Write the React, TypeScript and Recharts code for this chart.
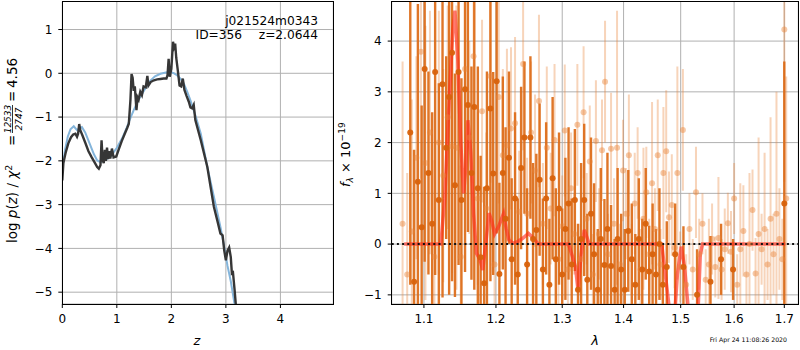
import React from "react";
import {
  LineChart,
  ComposedChart,
  Line,
  Scatter,
  ErrorBar,
  XAxis,
  YAxis,
  CartesianGrid,
  ReferenceLine,
} from "recharts";

const FONT = "DejaVu Sans, Verdana, sans-serif";

// left panel: redshift probability
const Z_TICKS = [0, 1, 2, 3, 4];
const LOGP_TICKS = [-5, -4, -3, -2, -1, 0, 1];

// [z, log p(z)]
const PZ_CURVE = [
  [0.0, -2.45], [0.02, -2.05], [0.06, -1.82], [0.11, -1.6], [0.16, -1.46], [0.2, -1.4],
  [0.24, -1.38], [0.27, -1.45], [0.29, -1.38], [0.31, -1.16], [0.33, -1.3], [0.37, -1.42],
  [0.42, -1.58], [0.48, -1.78], [0.54, -1.92], [0.6, -2.05], [0.64, -2.14], [0.67, -2.18],
  [0.7, -2.1], [0.72, -1.53], [0.74, -1.98], [0.76, -2.05], [0.78, -1.75], [0.8, -2.0],
  [0.82, -1.7], [0.84, -1.96], [0.86, -1.78], [0.88, -1.95], [0.91, -1.72], [0.94, -1.92],
  [0.99, -1.9], [1.04, -1.72], [1.09, -1.55], [1.14, -1.4], [1.19, -1.25], [1.22, -1.15],
  [1.25, -0.6], [1.27, -0.02], [1.29, -0.1], [1.31, -0.4], [1.33, -0.3], [1.36, -0.84],
  [1.38, -0.55], [1.4, -0.6], [1.43, -0.42], [1.46, -0.5], [1.49, -0.3], [1.53, -0.32],
  [1.56, -0.06], [1.58, -0.28], [1.62, -0.2], [1.68, -0.16], [1.74, -0.14], [1.8, -0.13],
  [1.86, -0.12], [1.91, -0.12], [1.93, -0.04], [1.95, 0.33], [1.97, -0.08], [2.0, 0.1],
  [2.03, 0.72], [2.05, 0.6], [2.07, 0.68], [2.09, 0.35], [2.12, 0.05], [2.15, -0.28],
  [2.18, -0.3], [2.21, -0.12], [2.24, -0.38], [2.28, -0.52], [2.32, -0.65], [2.35, -0.78],
  [2.38, -0.8], [2.41, -0.72], [2.44, -1.07], [2.54, -1.53], [2.66, -2.14], [2.72, -2.6],
  [2.78, -3.05], [2.85, -3.4], [2.9, -3.66], [2.94, -3.7], [2.97, -4.05], [3.0, -4.27],
  [3.03, -4.05], [3.06, -3.98], [3.09, -4.2], [3.11, -4.57], [3.13, -4.55], [3.16, -4.95],
  [3.19, -5.4],
];

// [z, log prior]
const PRIOR_CURVE = [
  [0.0, -2.18], [0.05, -1.75], [0.1, -1.45], [0.15, -1.28], [0.21, -1.21], [0.27, -1.3],
  [0.31, -1.26], [0.36, -1.23], [0.42, -1.35], [0.5, -1.6], [0.58, -1.85], [0.64, -1.99],
  [0.7, -2.03], [0.78, -1.98], [0.88, -1.91], [1.0, -1.7], [1.1, -1.48], [1.19, -1.22],
  [1.25, -1.02], [1.31, -0.84], [1.4, -0.6], [1.5, -0.39], [1.62, -0.16], [1.7, -0.07],
  [1.8, -0.01], [1.9, 0.02], [1.99, 0.03], [2.05, 0.0], [2.11, -0.05], [2.17, -0.13],
  [2.23, -0.24], [2.29, -0.42], [2.35, -0.62], [2.45, -1.0], [2.54, -1.38], [2.6, -1.76],
  [2.66, -2.14], [2.72, -2.48], [2.78, -2.82], [2.84, -3.16], [2.9, -3.51], [2.96, -3.9],
  [3.03, -4.4], [3.09, -4.75], [3.16, -5.28], [3.2, -5.5],
];

// right panel: spectrum
const WAVE_TICKS = [1.1, 1.2, 1.3, 1.4, 1.5, 1.6, 1.7];
const FLUX_TICKS = [-1, 0, 1, 2, 3, 4];

// [wavelength, flux, error] - blue grism
const BLUE_GRISM = [
  [1.082, 2.2, 3.0], [1.087, -0.74, 2.6], [1.092, 1.23, 3.5], [1.097, 0.33, 2.4], [1.101, 3.45, 3.8],
  [1.106, 1.4, 2.0], [1.111, 0.4, 2.2], [1.115, 3.39, 4.0], [1.12, 0.87, 2.3], [1.125, 3.15, 4.2],
  [1.13, 1.9, 1.8], [1.134, 2.9, 3.9], [1.138, 3.77, 4.5], [1.142, 1.16, 2.2], [1.147, 3.39, 3.8],
  [1.151, 0.87, 2.4], [1.156, 3.05, 3.6], [1.16, 2.74, 2.5], [1.165, 1.4, 2.1], [1.169, 2.7, 3.6],
  [1.174, 1.1, 2.4], [1.178, -0.26, 2.0], [1.183, -0.77, 1.9], [1.187, 1.1, 2.3], [1.192, 2.67, 3.4],
  [1.196, 1.39, 2.0], [1.201, 3.21, 3.0], [1.205, -0.59, 1.8], [1.21, 1.4, 1.9], [1.214, 0.5, 1.8],
  [1.219, 1.7, 1.7], [1.223, -0.3, 1.6], [1.228, 0.9, 1.7], [1.232, -0.6, 1.5], [1.237, 1.5, 1.6],
  [1.242, 2.1, 1.5], [1.246, -0.4, 1.5], [1.251, 2.1, 1.6], [1.255, 0.1, 1.5], [1.26, 0.28, 1.5],
  [1.265, 1.27, 1.5], [1.27, -0.5, 1.4], [1.275, 0.9, 1.5], [1.28, -0.8, 1.3], [1.285, 1.3, 1.6],
  [1.29, -0.3, 1.4], [1.295, 0.7, 1.5], [1.3, -0.6, 1.3], [1.305, 0.3, 1.4], [1.31, 0.8, 1.5],
  [1.315, -0.4, 1.3], [1.32, 0.87, 1.4], [1.325, -0.9, 1.3], [1.33, 0.1, 1.5], [1.335, 0.87, 1.5],
  [1.34, -0.7, 1.3], [1.346, 0.6, 1.5], [1.351, -0.2, 1.4], [1.357, -0.9, 1.2], [1.362, 0.1, 1.4],
  [1.368, -0.41, 1.3], [1.373, 0.3, 1.5], [1.379, -0.43, 1.2], [1.385, -0.9, 1.0], [1.39, 0.1, 1.4],
  [1.396, -0.5, 1.1], [1.402, -0.9, 1.2], [1.408, 0.26, 1.2], [1.414, -0.3, 1.1], [1.42, -0.8, 1.0],
  [1.426, 0.1, 1.2], [1.432, -0.5, 1.0], [1.438, 0.4, 1.1], [1.444, -0.54, 0.9], [1.45, -0.2, 1.0],
  [1.456, -0.6, 0.9], [1.462, 0.0, 1.1], [1.468, -0.8, 0.8], [1.475, -0.45, 0.9], [1.49, -0.2, 1.0],
  [1.505, -0.45, 0.8], [1.53, -1.0, 0.9], [1.555, -0.74, 0.9], [1.575, -0.3, 0.7], [1.598, -0.5, 0.6],
  [1.7, 0.8, 2.8],
];

// [wavelength, flux, error] - red grism
const RED_GRISM = [
  [1.072, 0.4, 3.2], [1.078, -0.6, 2.0], [1.084, 0.25, 2.6], [1.09, 1.7, 2.0], [1.096, 3.79, 2.5],
  [1.102, 1.6, 2.7], [1.108, 2.2, 2.4], [1.114, -0.25, 1.9], [1.12, 2.0, 2.6], [1.126, 1.35, 2.1],
  [1.132, 2.5, 2.2], [1.138, 1.93, 2.5], [1.144, 1.9, 2.8], [1.15, -0.25, 1.8], [1.156, 3.45, 2.4],
  [1.162, 2.1, 1.9], [1.168, 3.7, 2.5], [1.174, 0.9, 1.7], [1.18, 2.62, 1.8], [1.186, 0.7, 1.5],
  [1.192, 3.31, 2.1], [1.198, -0.4, 1.4], [1.204, 2.9, 2.1], [1.21, 1.75, 1.7], [1.216, 1.95, 1.9],
  [1.222, 2.28, 1.6], [1.228, 2.38, 1.7], [1.234, 0.64, 1.2], [1.24, 3.55, 1.7], [1.246, 0.6, 1.1],
  [1.252, 2.2, 1.4], [1.258, 1.45, 1.5], [1.264, 2.82, 1.7], [1.27, 0.4, 1.2], [1.276, 1.9, 1.6],
  [1.282, 0.7, 1.1], [1.288, 2.05, 1.5], [1.294, -0.3, 1.0], [1.3, 0.35, 1.0], [1.304, 2.24, 1.3],
  [1.309, -0.5, 0.8], [1.314, 1.1, 1.1], [1.319, 0.2, 0.8], [1.324, 2.35, 1.2], [1.329, -0.3, 0.7],
  [1.334, 2.6, 1.3], [1.339, 0.5, 0.9], [1.344, 1.63, 1.1], [1.349, -0.6, 0.8], [1.354, 2.03, 1.2],
  [1.359, 0.2, 0.9], [1.364, 1.85, 1.0], [1.369, 3.2, 1.2], [1.374, -0.2, 0.8], [1.379, 1.88, 1.1],
  [1.384, 0.4, 0.9], [1.389, 1.9, 2.7], [1.394, -0.4, 0.8], [1.399, 1.45, 1.0], [1.404, 0.6, 0.9],
  [1.409, 1.75, 1.2], [1.414, -0.3, 0.7], [1.419, 0.8, 1.0], [1.424, 1.4, 0.9], [1.429, -0.5, 0.8],
  [1.434, 0.5, 1.4], [1.439, 1.02, 0.9], [1.444, -0.2, 0.7], [1.449, 1.2, 1.6], [1.454, 0.3, 0.8],
  [1.459, 1.75, 1.1], [1.464, -0.4, 0.7], [1.469, 1.4, 1.3], [1.474, 1.83, 1.2], [1.479, 0.53, 0.9],
  [1.484, 0.77, 1.0], [1.489, -0.07, 0.8], [1.494, 1.4, 2.1], [1.499, -0.45, 0.7], [1.504, 2.25, 1.2],
  [1.51, -0.8, 0.6], [1.516, 0.3, 0.7], [1.522, -0.5, 0.6], [1.528, 1.02, 0.9], [1.534, -0.2, 0.7],
  [1.54, 0.4, 0.6], [1.546, -0.7, 0.6], [1.552, -0.4, 0.9], [1.558, 0.1, 0.7], [1.564, -0.45, 0.6],
  [1.57, 0.12, 1.2], [1.576, -0.5, 0.6], [1.582, -0.1, 0.8], [1.588, 0.41, 0.6], [1.594, -0.15, 0.8],
  [1.6, 0.9, 0.7], [1.606, -0.8, 0.6], [1.612, -0.1, 1.3], [1.618, 0.26, 0.9], [1.624, -0.6, 0.6],
  [1.63, 0.0, 1.4], [1.636, 0.67, 0.8], [1.642, -0.58, 0.7], [1.648, 0.2, 1.9], [1.654, -0.1, 0.7],
  [1.66, 0.3, 1.5], [1.666, -0.4, 0.7], [1.672, 0.5, 2.0], [1.678, -0.2, 0.8], [1.684, 0.6, 2.4],
  [1.69, 0.1, 1.0], [1.696, -0.3, 0.8], [1.7, 4.23, 3.0], [1.704, 0.9, 2.4],
];

// [wavelength, model flux]
const MODEL = [
  [1.074, 0], [1.1227, 0], [1.128, 0.9], [1.134, 2.8], [1.139, 4.2], [1.142, 4.6], [1.146, 3.6],
  [1.15, 2.0], [1.154, 1.0], [1.157, 1.5], [1.16, 2.44], [1.164, 1.8], [1.168, 0.6], [1.172, -0.18],
  [1.177, -0.3], [1.181, -0.51], [1.186, 0.1], [1.19, 0.61], [1.194, 0.45], [1.198, 0.2],
  [1.204, 0.35], [1.211, 0.6], [1.215, 0.3], [1.219, 0.08], [1.225, 0.02], [1.232, 0.05],
  [1.239, 0.11], [1.248, 0.21], [1.256, 0.11], [1.263, 0], [1.31, 0], [1.317, -0.28],
  [1.321, -0.45], [1.325, -0.9], [1.33, -0.2], [1.335, 0.28], [1.339, 0.15], [1.343, 0],
  [1.466, 0], [1.475, -0.84], [1.482, -1.5], [1.488, -1.6], [1.494, -0.6], [1.501, -0.05],
  [1.507, -0.45], [1.514, -1.3], [1.52, -1.8], [1.53, -1.8], [1.536, -0.2], [1.54, 0], [1.702, 0],
];

const pzData = PZ_CURVE.map(([z, lp]) => ({ z, lp }));
const priorData = PRIOR_CURVE.map(([z, lp]) => ({ z, lp }));
const blueData = BLUE_GRISM.map(([wave, flux, err]) => ({ wave, flux, err }));
const redData = RED_GRISM.map(([wave, flux, err]) => ({ wave, flux, err }));
const modelData = MODEL.map(([wave, flux]) => ({ wave, flux }));

const tickStyle = { fill: "#000", fontSize: 12, fontFamily: FONT };
const fmtMinus = (v: number) => (v < 0 ? "\u2212" + Math.abs(v) : String(v));

const dot = (fill: string, opacity: number) => (p: any) =>
  p.cx == null ? <g /> : <circle cx={p.cx} cy={p.cy} r={3} fill={fill} fillOpacity={opacity} />;

// plot area of the spectrum chart, in its own svg coordinates
const SPEC_PLOT = { x: 51.7, y: 1.5, w: 406.6, h: 302.5 };

function Frame({ x, y, w, h }: { x: number; y: number; w: number; h: number }) {
  return (
    <div
      style={{
        position: "absolute",
        left: x,
        top: y,
        width: w,
        height: h,
        border: "1.2px solid #000",
        boxSizing: "border-box",
        pointerEvents: "none",
      }}
    />
  );
}

export default function App() {
  return (
    <div style={{ position: "absolute", left: 0, top: 0, width: 800, height: 350, background: "#fff", fontFamily: FONT }}>
      <style>{`.spec-chart .recharts-errorBars, .spec-chart .recharts-errorBar { clip-path: url(#specClip); }`}</style>
      <svg width={0} height={0} style={{ position: "absolute" }}>
        <defs>
          <clipPath id="specClip" clipPathUnits="userSpaceOnUse">
            <rect x={SPEC_PLOT.x} y={SPEC_PLOT.y} width={SPEC_PLOT.w} height={SPEC_PLOT.h} />
          </clipPath>
        </defs>
      </svg>

      <div style={{ position: "absolute", left: 0, top: 0 }}>
        <LineChart width={340} height={350} margin={{ top: 1.5, right: 6.7, bottom: 16, left: 12.3 }}>
          <CartesianGrid stroke="#b0b0b0" strokeWidth={1} />
          <XAxis
            type="number"
            dataKey="z"
            domain={[0, 4.97]}
            ticks={Z_TICKS}
            allowDataOverflow
            height={30}
            tickSize={4}
            tickMargin={6}
            tick={tickStyle}
            tickLine={{ stroke: "#000" }}
            axisLine={false}
          />
          <YAxis
            type="number"
            domain={[-5.27, 1.64]}
            ticks={LOGP_TICKS}
            allowDataOverflow
            width={50}
            tickSize={4}
            tickMargin={6}
            tick={tickStyle}
            tickLine={{ stroke: "#000" }}
            axisLine={false}
            tickFormatter={fmtMinus}
          />
          <Line data={priorData} dataKey="lp" type="linear" stroke="#84b5db" strokeWidth={2} dot={false} isAnimationActive={false} />
          <Line data={pzData} dataKey="lp" type="linear" stroke="#363636" strokeWidth={2.4} dot={false} isAnimationActive={false} />
        </LineChart>
      </div>

      <div className="spec-chart" style={{ position: "absolute", left: 340, top: 0 }}>
        <ComposedChart width={460} height={350} margin={{ top: 1.5, right: 1.7, bottom: 16, left: 11.7 }}>
          <CartesianGrid stroke="#b0b0b0" strokeWidth={1} />
          <XAxis
            type="number"
            dataKey="wave"
            scale="log"
            domain={[1.058, 1.729]}
            ticks={WAVE_TICKS}
            allowDataOverflow
            height={30}
            tickSize={4}
            tickMargin={6}
            tick={tickStyle}
            tickLine={{ stroke: "#000" }}
            axisLine={false}
            tickFormatter={(v: number) => v.toFixed(1)}
          />
          <YAxis
            type="number"
            dataKey="flux"
            domain={[-1.18, 4.78]}
            ticks={FLUX_TICKS}
            allowDataOverflow
            width={40}
            tickSize={4}
            tickMargin={6}
            tick={tickStyle}
            tickLine={{ stroke: "#000" }}
            axisLine={false}
            tickFormatter={fmtMinus}
          />
          <Scatter data={redData} dataKey="flux" shape={dot("#e8853a", 0.45)} isAnimationActive={false}>
            <ErrorBar dataKey="err" direction="y" width={0} stroke="#e8853a" strokeOpacity={0.35} strokeWidth={2} isAnimationActive={false} />
          </Scatter>
          <Scatter data={blueData} dataKey="flux" shape={dot("#d8620c", 0.95)} isAnimationActive={false}>
            <ErrorBar dataKey="err" direction="y" width={0} stroke="#dc6a16" strokeOpacity={0.92} strokeWidth={2.4} isAnimationActive={false} />
          </Scatter>
          <Line data={modelData} dataKey="flux" type="linear" stroke="#ff2a1a" strokeOpacity={0.62} strokeWidth={3.5} dot={false} isAnimationActive={false} />
          <ReferenceLine y={0} stroke="#111" strokeWidth={2} strokeDasharray="2 3.2" />
        </ComposedChart>
      </div>

      <Frame x={62} y={1} w={271.5} h={303.5} />
      <Frame x={391} y={1} w={408} h={303.5} />

      <svg width={800} height={350} style={{ position: "absolute", left: 0, top: 0, pointerEvents: "none" }} fontFamily={FONT}>
        <text x={318} y={25} fontSize={12.2} textAnchor="end">j021524m0343</text>
        <text x={242} y={39} fontSize={12.2} textAnchor="end">ID=356</text>
        <text x={318} y={39} fontSize={12.2} textAnchor="end">z=2.0644</text>

        <text x={197} y={345} fontSize={13} fontStyle="italic" textAnchor="middle">z</text>
        <text x={595} y={345} fontSize={13} fontStyle="italic" textAnchor="middle">λ</text>

        <g transform="translate(17,243) rotate(-90)">
          <text x={0} y={0} fontSize={13.5}>
            log <tspan fontStyle="italic">p</tspan>(<tspan fontStyle="italic">z</tspan>) / <tspan fontStyle="italic">χ</tspan>
            <tspan dy={-5} fontSize={9.5}>2</tspan>
          </text>
          <text x={97} y={0} fontSize={13.5}>=</text>
          <text x={124} y={-6.5} fontSize={9} fontStyle="italic" textAnchor="middle">12533</text>
          <line x1={110} x2={138} y1={-4.5} y2={-4.5} stroke="#000" strokeWidth={0.8} />
          <text x={124} y={4.5} fontSize={9} fontStyle="italic" textAnchor="middle">2747</text>
          <text x={141} y={0} fontSize={13.5}>=</text>
          <text x={155} y={0} fontSize={13.5}>4.56</text>
        </g>

        <g transform="translate(350,187) rotate(-90)">
          <text x={0} y={0} fontSize={13}>
            <tspan fontStyle="italic">f</tspan>
            <tspan dy={3} fontSize={9} fontStyle="italic">λ</tspan>
            <tspan dy={-3}> × 10</tspan>
            <tspan dy={-5.5} fontSize={9}>−19</tspan>
          </text>
        </g>

        <text x={787} y={342} fontSize={6.2} textAnchor="end">Fri Apr 24 11:08:26 2020</text>
      </svg>
    </div>
  );
}
